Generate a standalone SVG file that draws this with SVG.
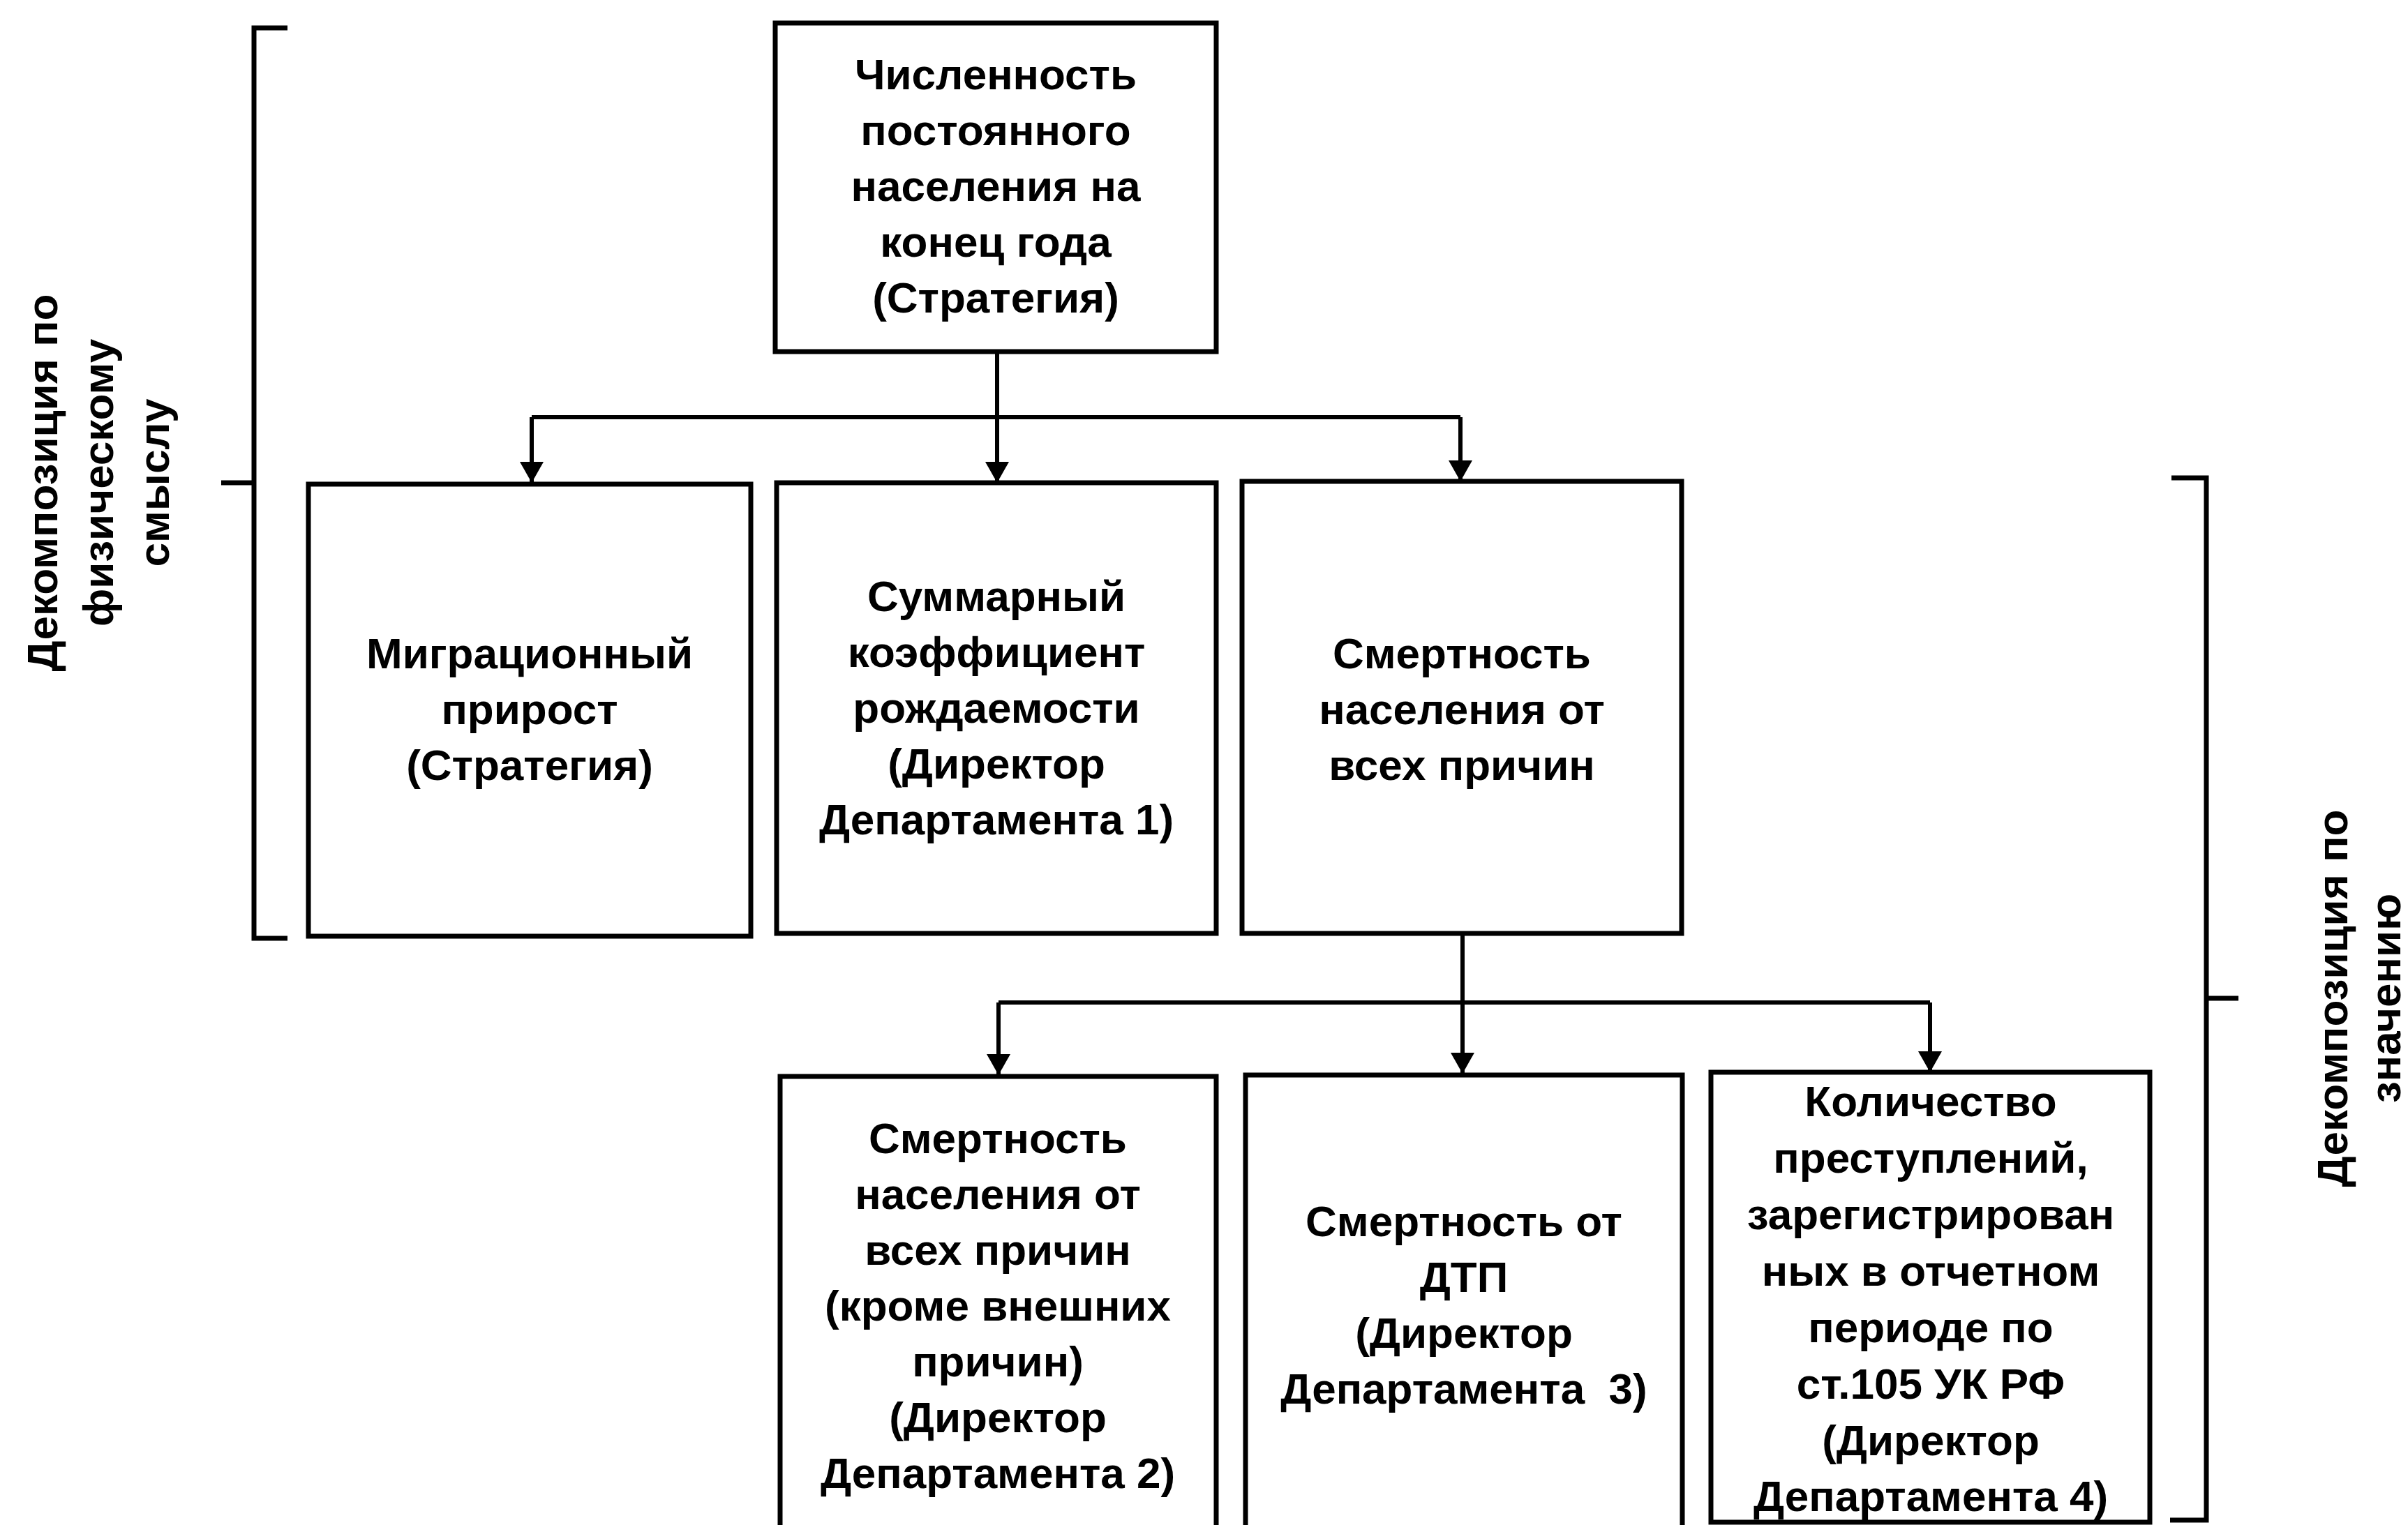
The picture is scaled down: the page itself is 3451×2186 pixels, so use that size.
<svg xmlns="http://www.w3.org/2000/svg" width="3451" height="2186" viewBox="0 0 3451 2186">
<style>
.box{fill:#fff;stroke:#000;stroke-width:7}
.ln{fill:none;stroke:#000;stroke-width:6}
.br{fill:none;stroke:#000;stroke-width:7}
text{font-family:"Liberation Sans",Arial,sans-serif;font-weight:bold;font-size:62px;fill:#000;text-anchor:middle;white-space:pre}
</style>
<defs>
<marker id="arr" markerUnits="userSpaceOnUse" markerWidth="34" markerHeight="34" refX="30" refY="17" orient="auto">
<path d="M0,0 L30,17 L0,34 z" fill="#000"/>
</marker>
</defs>
<rect width="3451" height="2186" fill="#fff"/>

<g id="connectors">
<path class="ln" d="M1429,504 V692" marker-end="url(#arr)"/>
<path class="ln" d="M762,598 H2093"/>
<path class="ln" d="M762,598 V692" marker-end="url(#arr)"/>
<path class="ln" d="M2093,598 V690" marker-end="url(#arr)"/>
<path class="ln" d="M2096,1338 V1539" marker-end="url(#arr)"/>
<path class="ln" d="M1431,1437 H2766"/>
<path class="ln" d="M1431,1437 V1541" marker-end="url(#arr)"/>
<path class="ln" d="M2766,1437 V1537" marker-end="url(#arr)"/>
</g>

<g id="n_top">
<rect class="box" x="1111" y="33" width="632" height="471"/>
<text x="1427" y="128">Численность</text>
<text x="1427" y="208">постоянного</text>
<text x="1427" y="288">населения на</text>
<text x="1427" y="368">конец года</text>
<text x="1427" y="448">(Стратегия)</text>
</g>

<g id="n_migr">
<rect class="box" x="442" y="694" width="634" height="648"/>
<text x="759" y="958">Миграционный</text>
<text x="759" y="1038">прирост</text>
<text x="759" y="1118">(Стратегия)</text>
</g>

<g id="n_birth">
<rect class="box" x="1113" y="692" width="630" height="646"/>
<text x="1428" y="876">Суммарный</text>
<text x="1428" y="956">коэффициент</text>
<text x="1428" y="1036">рождаемости</text>
<text x="1428" y="1116">(Директор</text>
<text x="1428" y="1196">Департамента 1)</text>
</g>

<g id="n_mort">
<rect class="box" x="1780" y="690" width="630" height="648"/>
<text x="2095" y="958">Смертность</text>
<text x="2095" y="1038">населения от</text>
<text x="2095" y="1118">всех причин</text>
</g>

<g id="n_mort2">
<path class="box" d="M1118,2200 V1543 H1743 V2200"/>
<text x="1430" y="1653">Смертность</text>
<text x="1430" y="1733">населения от</text>
<text x="1430" y="1813">всех причин</text>
<text x="1430" y="1893">(кроме внешних</text>
<text x="1430" y="1973">причин)</text>
<text x="1430" y="2053">(Директор</text>
<text x="1430" y="2133">Департамента 2)</text>
</g>

<g id="n_dtp">
<path class="box" d="M1785,2200 V1541 H2411 V2200"/>
<text x="2098" y="1772">Смертность от</text>
<text x="2098" y="1852">ДТП</text>
<text x="2098" y="1932">(Директор</text>
<text x="2098" y="2012">Департамента  3)</text>
</g>

<g id="n_crime">
<rect class="box" x="2452" y="1537" width="629" height="645"/>
<text x="2767" y="1600">Количество</text>
<text x="2767" y="1681">преступлений,</text>
<text x="2767" y="1762">зарегистрирован</text>
<text x="2767" y="1843">ных в отчетном</text>
<text x="2767" y="1924">периоде по</text>
<text x="2767" y="2005">ст.105 УК РФ</text>
<text x="2767" y="2086">(Директор</text>
<text x="2767" y="2166">Департамента 4)</text>
</g>

<g id="brace_left">
<path class="br" d="M412,40 H364 V1345 H412"/>
<path class="br" d="M317,692 H364"/>
<text transform="translate(0,692) rotate(-90)" x="0" y="82">Декомпозиция по</text>
<text transform="translate(0,692) rotate(-90)" x="0" y="162">физическому</text>
<text transform="translate(0,692) rotate(-90)" x="0" y="242">смыслу</text>
</g>

<g id="brace_right">
<path class="br" d="M3112,685 H3162 V2179 H3110"/>
<path class="br" d="M3162,1431 H3208"/>
<text transform="translate(0,1431) rotate(-90)" x="0" y="3364">Декомпозиция по</text>
<text transform="translate(0,1431) rotate(-90)" x="0" y="3440">значению</text>
</g>
</svg>
